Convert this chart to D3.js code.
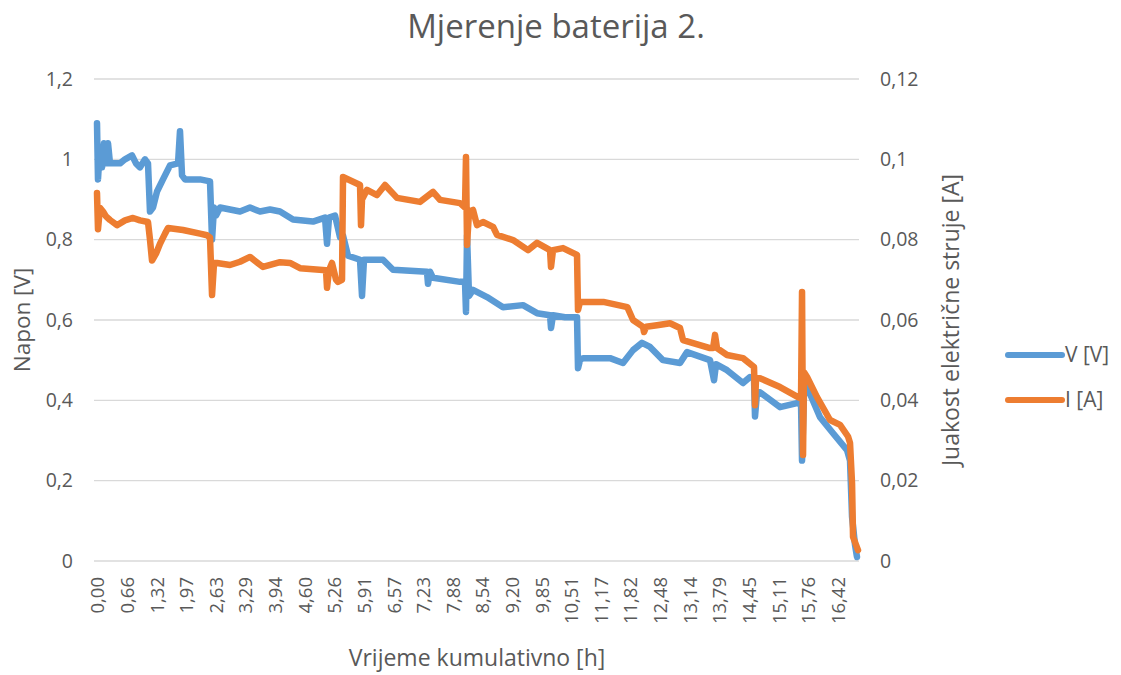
<!DOCTYPE html>
<html>
<head>
<meta charset="utf-8">
<script src="https://cdn.jsdelivr.net/npm/d3@7"></script>
<style>
  body { margin: 0; background: #fff; }
  text { font-family: "Open Sans", "Noto Sans", sans-serif; fill: #595959; }
</style>
</head>
<body>
<div id="chart"></div>
<script>
// vrijeme [h] i napon [V]
const timeV = [0.00, 0.022, 0.066, 0.111, 0.155, 0.199, 0.244, 0.288, 0.510, 0.620, 0.776, 0.864, 0.953, 1.064, 1.130,
  1.174, 1.241, 1.330, 1.462, 1.618, 1.795, 1.839, 1.884, 1.950, 2.283, 2.504, 2.549, 2.593, 2.637, 2.726, 2.947,
  3.169, 3.390, 3.612, 3.834, 4.055, 4.343, 4.786, 5.052, 5.097, 5.141, 5.274, 5.385, 5.451, 5.562, 5.828, 5.872,
  5.916, 6.337, 6.559, 7.312, 7.334, 7.379, 7.445, 8.043, 8.154, 8.176, 8.199, 8.243, 8.331, 8.642, 8.996, 9.439,
  9.750, 10.038, 10.060, 10.104, 10.370, 10.636, 10.658, 10.702, 10.769, 11.367, 11.655, 11.877, 12.076, 12.254,
  12.542, 12.918, 13.074, 13.583, 13.672, 13.716, 13.960, 14.314, 14.470, 14.558, 14.580, 14.625, 14.691, 15.134,
  15.511, 15.600, 15.622, 15.666, 15.733, 16.021, 16.309, 16.619, 16.685, 16.730, 16.796, 16.840];
const voltage = [1.09, 0.95, 1.03, 0.98, 1.04, 0.99, 1.04, 0.99, 0.99, 1.0, 1.01, 0.99, 0.98, 1.0, 0.99,
  0.87, 0.88, 0.92, 0.95, 0.985, 0.99, 1.07, 0.96, 0.95, 0.95, 0.945, 0.80, 0.88, 0.86, 0.88, 0.875,
  0.87, 0.88, 0.87, 0.875, 0.87, 0.85, 0.845, 0.855, 0.79, 0.855, 0.86, 0.806, 0.81, 0.76, 0.75, 0.66,
  0.75, 0.75, 0.725, 0.72, 0.69, 0.72, 0.705, 0.695, 0.695, 0.62, 0.81, 0.66, 0.675, 0.657, 0.632, 0.637,
  0.617, 0.612, 0.58, 0.612, 0.607, 0.607, 0.48, 0.50, 0.505, 0.505, 0.493, 0.525, 0.543, 0.533,
  0.50, 0.493, 0.52, 0.50, 0.45, 0.49, 0.475, 0.443, 0.458, 0.455, 0.36, 0.42, 0.42, 0.383,
  0.393, 0.39, 0.25, 0.42, 0.433, 0.358, 0.318, 0.276, 0.25, 0.11, 0.04, 0.01];

// vrijeme [h] i struja [A]
const timeI = [0.00, 0.022, 0.066, 0.133, 0.199, 0.288, 0.443, 0.620, 0.798, 0.953, 1.130, 1.174, 1.219, 1.307,
  1.396, 1.507, 1.573, 1.906, 2.283, 2.437, 2.504, 2.549, 2.593, 2.659, 2.947, 3.169, 3.390, 3.678, 4.055, 4.277,
  4.498, 5.074, 5.097, 5.141, 5.207, 5.296, 5.340, 5.429, 5.451, 5.828, 5.850, 5.872, 5.983, 6.204, 6.382, 6.647,
  7.157, 7.445, 7.600, 8.043, 8.154, 8.176, 8.199, 8.243, 8.331, 8.420, 8.553, 8.775, 8.863, 9.218, 9.550, 9.750,
  10.038, 10.060, 10.104, 10.326, 10.636, 10.658, 10.702, 11.219, 11.751, 11.877, 12.099, 12.121, 12.166, 12.409,
  12.697, 12.918, 12.985, 13.583, 13.650, 13.694, 13.738, 13.960, 14.314, 14.558, 14.580, 14.603, 14.691, 15.134,
  15.533, 15.600, 15.622, 15.644, 15.666, 15.733, 15.954, 16.242, 16.464, 16.641, 16.685, 16.730, 16.752, 16.818, 16.862];
const current = [0.0916, 0.0826, 0.0879, 0.0870, 0.0858, 0.0849, 0.0836, 0.0848, 0.0854, 0.0848, 0.0844, 0.0800, 0.0748, 0.0765,
  0.0790, 0.0815, 0.0829, 0.0824, 0.0815, 0.0811, 0.0805, 0.0662, 0.0742, 0.0742, 0.0737, 0.0745, 0.0757, 0.0732, 0.0744, 0.0742,
  0.0729, 0.0724, 0.0680, 0.0724, 0.0742, 0.0700, 0.0695, 0.0700, 0.0956, 0.0936, 0.0836, 0.0900, 0.0924, 0.0911, 0.0936, 0.0904,
  0.0894, 0.0919, 0.0899, 0.0891, 0.0880, 0.1006, 0.0787, 0.0870, 0.0874, 0.0836, 0.0844, 0.0832, 0.0812, 0.0799, 0.0774, 0.0792,
  0.0774, 0.0732, 0.0774, 0.0779, 0.0762, 0.0625, 0.0645, 0.0645, 0.0632, 0.0600, 0.0583, 0.0570, 0.0583, 0.0587,
  0.0592, 0.0580, 0.0550, 0.0530, 0.0530, 0.0563, 0.0530, 0.0513, 0.0505, 0.0483, 0.0388, 0.0455, 0.0455, 0.0433,
  0.0408, 0.0405, 0.0670, 0.0264, 0.0470, 0.0458, 0.0408, 0.0351, 0.0339, 0.0310, 0.0294, 0.0194, 0.0060, 0.0040, 0.0027];

const xLabels = ["0,00", "0,66", "1,32", "1,97", "2,63", "3,29", "3,94", "4,60", "5,26", "5,91", "6,57", "7,23", "7,88",
  "8,54", "9,20", "9,85", "10,51", "11,17", "11,82", "12,48", "13,14", "13,79", "14,45", "15,11", "15,76", "16,42"];
const leftTicks = [0, 0.2, 0.4, 0.6, 0.8, 1, 1.2];
const rightTicks = [0, 0.02, 0.04, 0.06, 0.08, 0.1, 0.12];
const seriesNames = ["V [V]", "I [A]"];
const colors = ["#5b9bd5", "#ed7d31"];

const W = 1121, H = 675;
const svg = d3.select("#chart").append("svg").attr("width", W).attr("height", H);

const x = d3.scaleLinear().domain([0, 16.862]).range([97, 858]);
const yL = d3.scaleLinear().domain([0, 1.2]).range([561, 79]);
const yR = d3.scaleLinear().domain([0, 0.12]).range([561, 79]);
const fmt = v => String(+v.toFixed(2)).replace(".", ",");

// mreža
svg.append("g").selectAll("line")
  .data(leftTicks)
  .enter().append("line")
    .attr("x1", 94).attr("x2", 859)
    .attr("y1", d => yL(d)).attr("y2", d => yL(d))
    .attr("stroke", "#d9d9d9").attr("stroke-width", 1.3);

// lijeva os
const axL = svg.append("g").attr("transform", "translate(94,0)")
  .call(d3.axisLeft(yL).tickValues(leftTicks).tickFormat(fmt).tickSize(0).tickPadding(21));
axL.select(".domain").remove();
axL.selectAll("text").style("font-size", "19.5px").style("fill", "#595959");

// desna os
const axR = svg.append("g").attr("transform", "translate(859,0)")
  .call(d3.axisRight(yR).tickValues(rightTicks).tickFormat(fmt).tickSize(0).tickPadding(21));
axR.select(".domain").remove();
axR.selectAll("text").style("font-size", "19.5px").style("fill", "#595959");

// x oznake
svg.append("g").selectAll("text")
  .data(xLabels)
  .enter().append("text")
    .attr("transform", d => "translate(" + (x(+d.replace(",", ".")) + 7) + ",577) rotate(-90)")
    .attr("text-anchor", "end")
    .style("font-size", "18.5px")
    .text(d => d);

// linije
const lineV = d3.line().x((d, i) => x(timeV[i])).y(d => yL(d));
const lineI = d3.line().x((d, i) => x(timeI[i])).y(d => yR(d));
svg.append("path").datum(voltage)
  .attr("d", lineV).attr("fill", "none").attr("stroke", colors[0])
  .attr("stroke-width", 6.5).attr("stroke-linejoin", "round").attr("stroke-linecap", "round");
svg.append("path").datum(current)
  .attr("d", lineI).attr("fill", "none").attr("stroke", colors[1])
  .attr("stroke-width", 6.5).attr("stroke-linejoin", "round").attr("stroke-linecap", "round");

// naslovi
svg.append("text").attr("x", 556).attr("y", 38).attr("text-anchor", "middle")
  .style("font-size", "33px").text("Mjerenje baterija 2.");
svg.append("text").attr("x", 477).attr("y", 666).attr("text-anchor", "middle")
  .style("font-size", "23px").text("Vrijeme kumulativno [h]");
svg.append("text").attr("transform", "translate(30,320) rotate(-90)").attr("text-anchor", "middle")
  .style("font-size", "22.5px").text("Napon [V]");
svg.append("text").attr("transform", "translate(959,320) rotate(-90)").attr("text-anchor", "middle")
  .style("font-size", "23px").text("Juakost električne struje [A]");

// legenda
const leg = svg.append("g").selectAll("g")
  .data(seriesNames)
  .enter().append("g")
    .attr("transform", (d, i) => "translate(1008," + (355 + i * 45) + ")");
leg.append("line").attr("x1", 0).attr("x2", 54)
  .attr("stroke", (d, i) => colors[i]).attr("stroke-width", 6).attr("stroke-linecap", "round");
leg.append("text").attr("x", 57).attr("y", 7).style("font-size", "21px").text(d => d);
</script>
</body>
</html>
